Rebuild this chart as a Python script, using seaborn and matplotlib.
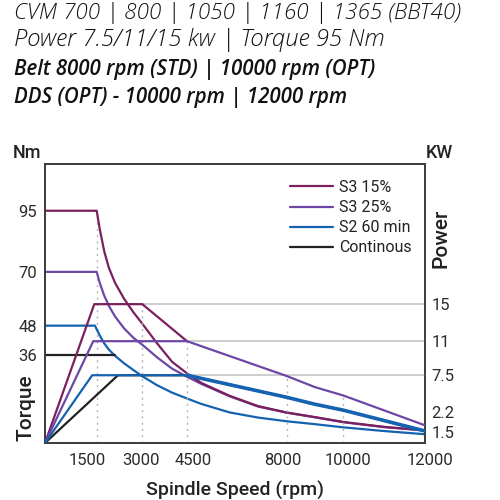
import numpy as np
import matplotlib
matplotlib.use("Agg")
import matplotlib.pyplot as plt
import matplotlib.transforms as mtrans
from matplotlib.lines import Line2D
import seaborn as sns

# ---------------- data ----------------
series_names = ["S3 15%", "S3 25%", "S2 60 min", "Continous"]
series_colors = ["#7b1f5e", "#6c47a6", "#1462b0", "#222222"]

# torque curves (Nm vs rpm)
tq_s3_15_rpm = [0, 1500, 1600, 1750, 1900, 2100, 2400, 2700, 3000, 3500, 4000, 4500, 5000, 6000, 7000, 8000, 9000, 10000, 11000, 12000]
tq_s3_15_nm = [95, 95, 87.5, 78.3, 71.7, 65.6, 59.0, 53.6, 48.8, 40.7, 33.2, 28.5, 24.6, 19.3, 15.1, 12.5, 10.6, 8.6, 6.6, 5.2]

tq_s3_25_rpm = [0, 1500, 1600, 1750, 1900, 2100, 2400, 2700, 3000, 3500, 4000, 4500, 5000, 6000, 7000, 8000, 9000, 10000, 11000, 12000]
tq_s3_25_nm = [70, 70, 65.5, 60.2, 56.1, 51.8, 46.9, 43.1, 40.2, 35.0, 30.4, 27.1, 24.2, 19.1, 14.9, 12.4, 10.5, 8.5, 6.5, 5.1]

tq_s2_rpm = [0, 1450, 1500, 1600, 1750, 1900, 2100, 2400, 2700, 3000, 3500, 4000, 4500, 5000, 6000, 7000, 8000, 9000, 10000, 11000, 12000]
tq_s2_nm = [48, 48, 46.5, 44.0, 40.7, 38.2, 35.7, 32.6, 29.9, 27.3, 23.6, 20.6, 18.2, 16.0, 12.5, 10.4, 8.9, 7.7, 6.4, 4.9, 3.6]

tq_cont_rpm = [0, 2100]
tq_cont_nm = [36, 36]

# power curves (kW vs rpm)
pw_s3_15_rpm = [0, 1430, 3000, 4500]
pw_s3_15_kw = [0, 15, 15, 11]

pw_s3_25_rpm = [0, 1400, 4500, 8000, 9000, 10000, 12000]
pw_s3_25_kw = [0, 11, 11, 7.4, 5.8, 4.6, 1.75]

pw_s2_rpm = [0, 1370, 4500, 8000, 9000, 10000, 12000]
pw_s2_kw = [0, 7.5, 7.5, 4.35, 3.35, 2.5, 1.55]

pw_cont_rpm = [0, 2200, 4500, 8000, 9000, 10000, 12000]
pw_cont_kw = [0, 7.5, 7.5, 4.35, 3.35, 2.5, 1.55]

x_ticks = [1500, 3000, 4500, 8000, 10000, 12000]
torque_ticks = [36, 48, 70, 95]
power_ticks = [1.5, 2.2, 7.5, 11, 15]

# reference guides
power_grid_kw = [15, 11, 7.5]
power_grid_start = [3000, 4500, 4500]
vgrid_rpm_power = [3000, 4500, 8000, 10000]
vgrid_top_power = [15, 11, 7.4, 4.6]

title_lines = [
    "CVM 700 | 800 | 1050 | 1160 | 1365 (BBT40)",
    "Power 7.5/11/15 kw | Torque 95 Nm",
    "Belt 8000 rpm (STD) | 10000 rpm (OPT)",
    "DDS (OPT) - 10000 rpm | 12000 rpm",
]

# ---------------- scales (schematic, piecewise axes) ----------------
def make_pw(xk, yk):
    xk = np.asarray(xk, float)
    yk = np.asarray(yk, float)
    s0 = (yk[1] - yk[0]) / (xk[1] - xk[0])
    s1 = (yk[-1] - yk[-2]) / (xk[-1] - xk[-2])

    def f(v):
        v = np.asarray(v, float)
        out = np.interp(v, xk, yk)
        out = np.where(v < xk[0], yk[0] + (v - xk[0]) * s0, out)
        out = np.where(v > xk[-1], yk[-1] + (v - xk[-1]) * s1, out)
        return out
    return f

rpm_knots = [0, 1500, 3000, 4500, 8000, 10000, 12000]
rpm_pos = [0, 51.7, 97.3, 142.0, 241.5, 298.3, 379.5]
x_fwd = make_pw(rpm_knots, rpm_pos)
x_inv = make_pw(rpm_pos, rpm_knots)

kw_knots = [0, 1.5, 2.2, 7.5, 11, 15, 30.1]
kw_pos = [0, 10.7, 30.7, 67.7, 101.7, 138.7, 278.4]
p_fwd = make_pw(kw_knots, kw_pos)
p_inv = make_pw(kw_pos, kw_knots)

# ---------------- figure ----------------
sns.set_theme(style="white")
plt.rcParams["font.family"] = ["Roboto", "DejaVu Sans"]

fig = plt.figure(figsize=(5, 5), dpi=100)
ax = fig.add_axes([45 / 500, 57 / 500, 379.5 / 500, 278.7 / 500])
ax.set_xscale("function", functions=(x_fwd, x_inv))
ax.set_xlim(0, 12000)
ax.set_ylim(0, 114)
ax2 = ax.twinx()
ax2.set_yscale("function", functions=(p_fwd, p_inv))
ax2.set_ylim(0, 30.1)
ax2.set_xlim(0, 12000)

grid_col = "#cdcdcd"
dot_col = "#b4b4bc"

# guides
ax2.hlines(power_grid_kw, power_grid_start, 12000, color=grid_col, lw=1.4, zorder=1)
ax2.vlines(vgrid_rpm_power, 0, vgrid_top_power, color=dot_col, lw=1.0, linestyles=(0, (1.5, 3)), zorder=1)
ax.vlines([x_ticks[0]], 0, [tq_s3_15_nm[1]], color=dot_col, lw=1.0, linestyles=(0, (1.5, 3)), zorder=1)

lw = 1.6
# torque (left axis)
torque_sets = [(tq_s3_25_rpm, tq_s3_25_nm, 1), (tq_s3_15_rpm, tq_s3_15_nm, 0),
               (tq_s2_rpm, tq_s2_nm, 2), (tq_cont_rpm, tq_cont_nm, 3)]
for xs, ys, i in torque_sets:
    sns.lineplot(x=xs, y=ys, ax=ax, color=series_colors[i], lw=lw, sort=False,
                 estimator=None, legend=False, zorder=3)

# power (right axis)
power_sets = [(pw_cont_rpm, pw_cont_kw, 3), (pw_s3_15_rpm, pw_s3_15_kw, 0),
              (pw_s3_25_rpm, pw_s3_25_kw, 1), (pw_s2_rpm, pw_s2_kw, 2)]
for xs, ys, i in power_sets:
    sns.lineplot(x=xs, y=ys, ax=ax2, color=series_colors[i], lw=lw, sort=False,
                 estimator=None, legend=False, zorder=3)
# overlapping S2 / continuous decline drawn heavier
sns.lineplot(x=pw_s2_rpm[2:], y=pw_s2_kw[2:], ax=ax2, color=series_colors[2], lw=2.6,
             sort=False, estimator=None, legend=False, zorder=3)

# ticks
tick_col = "#2b2b2b"
ax.set_xticks(x_ticks)
ax.set_xticklabels([str(t) for t in x_ticks])
ax.set_yticks(torque_ticks)
ax.set_yticklabels([str(t) for t in torque_ticks])
ax2.set_yticks(power_ticks)
ax2.set_yticklabels([f"{t:g}" for t in power_ticks])
ax.xaxis.set_minor_locator(matplotlib.ticker.NullLocator())
ax.yaxis.set_minor_locator(matplotlib.ticker.NullLocator())
ax2.yaxis.set_minor_locator(matplotlib.ticker.NullLocator())
ax.tick_params(axis="x", length=0, pad=7, labelsize=12, labelcolor=tick_col)
ax.tick_params(axis="y", length=0, pad=6, labelsize=12, labelcolor=tick_col)
ax2.tick_params(axis="y", length=0, pad=5, labelsize=12, labelcolor=tick_col)
# hand-placed label offsets as in the reference (pixels)
label_dx = [-9, -1, 6, -3.5, 5, 5.5]
for lab, dx in zip(ax.get_xticklabels(), label_dx):
    lab.set_transform(lab.get_transform() + mtrans.ScaledTranslation(dx / 100, 0, fig.dpi_scale_trans))
ax.set_xlabel("")
ax.set_ylabel("")
ax2.set_ylabel("")
ax.grid(False)
ax2.grid(False)

for a in (ax, ax2):
    for s in a.spines.values():
        s.set_color("#3a3a3a")
        s.set_linewidth(1.2)
        s.set_visible(True)

# axis titles
lab_col = "#222222"
fig.text(13 / 500, 1 - 158 / 500, "Nm", fontsize=13, color=lab_col, fontweight="medium", va="baseline", ha="left")
fig.text(426 / 500, 1 - 158 / 500, "KW", fontsize=13, color=lab_col, fontweight="medium", va="baseline", ha="left")
fig.text(26 / 500, 1 - 408 / 500, "Torque", fontsize=15, color=lab_col, fontweight="medium", rotation=90, va="center", ha="center")
fig.text(441 / 500, 1 - 238 / 500, "Power", fontsize=15, color=lab_col, fontweight="medium", rotation=90, va="center", ha="center")
fig.text(235 / 500, 1 - 490 / 500, "Spindle Speed (rpm)", fontsize=14, color=lab_col, fontweight="medium", va="center", ha="center")

# titles
title_y = [18.5, 46.5, 75, 103]
title_w = ["light", "light", "semibold", "semibold"]
title_s = [16.2, 17.2, 14.8, 14.8]
for txt, yy, w, s in zip(title_lines, title_y, title_w, title_s):
    fig.text(14 / 500, 1 - yy / 500, txt, fontsize=s, fontstyle="italic", fontweight=w,
             family=["Open Sans", "DejaVu Sans"], color="#111111", va="baseline", ha="left")

# legend
handles = [Line2D([0], [0], color=c, lw=lw) for c in series_colors]
leg = ax2.legend(handles, series_names, loc="upper left", bbox_to_anchor=(290 / 500, 1 - 180 / 500),
                 bbox_transform=fig.transFigure, frameon=False, fontsize=11.5, handlelength=2.7,
                 handletextpad=0.35, labelspacing=0.32, borderpad=0, borderaxespad=0)
for t in leg.get_texts():
    t.set_color(lab_col)

fig.savefig("out.png", dpi=100)
